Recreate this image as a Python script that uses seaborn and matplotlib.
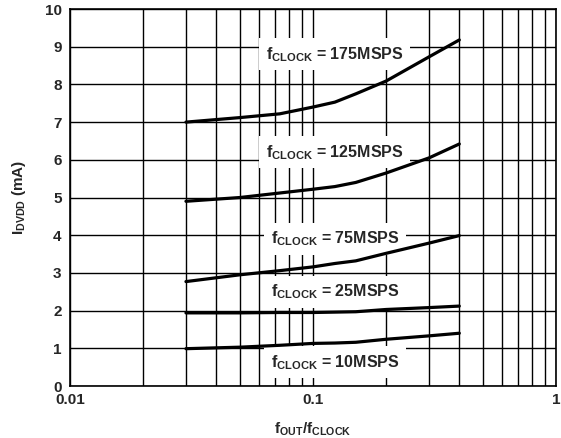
import numpy as np
import pandas as pd
import seaborn as sns
import matplotlib
matplotlib.use('Agg')
import matplotlib.pyplot as plt
from matplotlib.ticker import FixedLocator, NullFormatter

# данные
RATIO = [0.03, 0.05, 0.073, 0.1, 0.123, 0.15, 0.2, 0.3, 0.4]
I_175 = [7.0, 7.12, 7.22, 7.4, 7.53, 7.75, 8.09, 8.73, 9.18]
I_125 = [4.9, 5.0, 5.12, 5.22, 5.29, 5.4, 5.65, 6.05, 6.42]
I_75 = [2.77, 2.95, 3.06, 3.16, 3.25, 3.32, 3.52, 3.79, 3.99]
I_25 = [1.94, 1.94, 1.95, 1.95, 1.96, 1.97, 2.03, 2.08, 2.12]
I_10 = [0.99, 1.03, 1.08, 1.13, 1.14, 1.16, 1.24, 1.33, 1.40]
CLOCKS = ['175', '125', '75', '25', '10']
LABEL_Y = [8.8, 6.2, 3.9, 2.5, 0.63]

FONT_SIZE = 11

df = pd.DataFrame({
    'ratio': RATIO * 5,
    'idd': I_175 + I_125 + I_75 + I_25 + I_10,
    'clock': sum([[c] * len(RATIO) for c in CLOCKS], []),
})

sns.set_style('white')
plt.rcParams['font.family'] = ['Liberation Sans', 'DejaVu Sans']
plt.rcParams['font.weight'] = 'bold'
plt.rcParams['mathtext.fontset'] = 'custom'
plt.rcParams['mathtext.rm'] = 'Liberation Sans:bold'
plt.rcParams['mathtext.bf'] = 'Liberation Sans:bold'
plt.rcParams['mathtext.it'] = 'Liberation Sans:bold'

fig = plt.figure(figsize=(5.61, 4.38), dpi=100)
ax = fig.add_axes([0.1248, 0.1187, 0.8663, 0.8607])
ax.set_axisbelow(True)

sns.lineplot(data=df, x='ratio', y='idd', hue='clock', units='clock', estimator=None,
             palette=['black'] * 5, linewidth=2.3, legend=False, ax=ax, zorder=3)

ax.set_xscale('log')
ax.set_xlim(0.01, 1)
ax.set_ylim(0, 10)
ax.set_yticks(np.arange(0, 11, 1))
ax.xaxis.set_major_locator(FixedLocator([0.01, 0.1, 1]))
ax.xaxis.set_minor_locator(FixedLocator([k * d for d in (0.01, 0.1) for k in range(2, 10)]))
ax.xaxis.set_minor_formatter(NullFormatter())
ax.set_xticklabels(['0.01', '0.1', '1'])
ax.grid(True, which='both', color='black', linewidth=1.0)
ax.tick_params(axis='both', which='both', length=0, labelsize=FONT_SIZE)
ax.tick_params(axis='x', pad=5)
ax.tick_params(axis='y', pad=6)
for lbl in ax.get_xticklabels() + ax.get_yticklabels():
    lbl.set_fontweight('bold')
for s in ax.spines.values():
    s.set_color('black')
    s.set_linewidth(1.2)
    s.set_zorder(5)

for c, yl in zip(CLOCKS, LABEL_Y):
    ax.text(0.123, yl, r'$\mathbf{f}_{\mathbf{CLOCK}}$' + ' = ' + c + 'MSPS',
            ha='center', va='center', fontsize=FONT_SIZE + 0.5, fontweight='bold', zorder=2,
            bbox=dict(facecolor='white', edgecolor='none', pad=5))

ax.set_xlabel(r'$\mathbf{f}_{\mathbf{OUT}}\mathbf{/f}_{\mathbf{CLOCK}}$', fontsize=FONT_SIZE, labelpad=10)
ax.set_ylabel(r'$\mathbf{I}_{\mathbf{DVDD}}$' + ' (mA)', fontsize=FONT_SIZE, fontweight='bold', labelpad=12)

fig.savefig('out.png', dpi=100)
